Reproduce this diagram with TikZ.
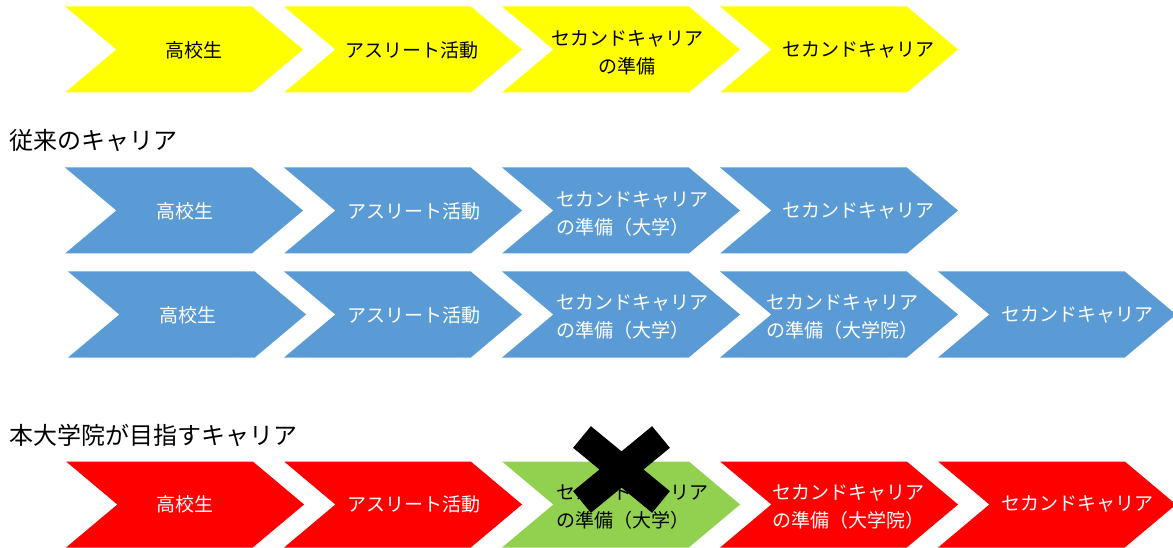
\documentclass[tikz,border=0pt]{standalone}
\usepackage{fontspec}
\newfontfamily\jpfont{Noto Sans CJK JP}
\usetikzlibrary{shapes.symbols}
\definecolor{chevyellow}{HTML}{FFFF00}
\definecolor{chevblue}{HTML}{5B9BD5}
\definecolor{chevred}{HTML}{FF0000}
\definecolor{chevgreen}{HTML}{92D050}
\tikzset{
	chev/.style={shape=signal,signal from=west,signal to=east,signal pointer angle=80,minimum width=238pt,minimum height=86pt,inner sep=0pt,fill=#1,anchor=west},
	lbl/.style={font=\jpfont\fontsize{19}{28}\selectfont,inner sep=0pt,align=left,text=#1},
	lbl/.default=white,
	heading/.style={font=\jpfont\fontsize{24}{28}\selectfont,inner sep=0pt,anchor=west}
}
\begin{document}
\begin{tikzpicture}[x=1pt,y=-1pt]
				\useasboundingbox (0,0) rectangle (1173,548);
				\node[heading] (h-old) at (9,141) {従来のキャリア};
				\node[heading] (h-new) at (9,435) {本大学院が目指すキャリア};
				\foreach \x [count=\i] in {116,335,553,771}
					\node[chev=chevyellow] (y-\i) at (\x,49.5) {};
				\foreach \x [count=\i] in {116,335,553,771}
					\node[chev=chevblue] (b-\i) at (\x,210.5) {};
				\foreach \x [count=\i] in {119,335,553,771,989}
					\node[chev=chevblue] (c-\i) at (\x,314.5) {};
				\foreach \x/\c [count=\i] in {117/chevred,335/chevred,553/chevgreen,771/chevred,989/chevred}
					\node[chev=\c] (r-\i) at (\x,504.5) {};
				\node[lbl=black] (y-t1) at (194,50) {高校生};
				\node[lbl=black] (y-t2) at (412,50) {アスリート活動};
				\node[lbl=black,align=center] (y-t3) at (627,53) {セカンドキャリア\\の準備};
				\node[lbl=black] (y-t4) at (858,50) {セカンドキャリア};
				\node[lbl] (b-t1) at (185,211) {高校生};
				\node[lbl] (b-t2) at (413.5,211) {アスリート活動};
				\node[lbl,anchor=west] (b-t3) at (556,213.5) {セカンドキャリア\\の準備（大学）};
				\node[lbl] (b-t4) at (858,211) {セカンドキャリア};
				\node[lbl] (c-t1) at (187.5,315) {高校生};
				\node[lbl] (c-t2) at (413.5,315) {アスリート活動};
				\node[lbl,anchor=west] (c-t3) at (556,316.5) {セカンドキャリア\\の準備（大学）};
				\node[lbl,anchor=west] (c-t4) at (766,316.5) {セカンドキャリア\\の準備（大学院）};
				\node[lbl] (c-t5) at (1077,315) {セカンドキャリア};
				\node[lbl] (r-t1) at (184.5,504) {高校生};
				\node[lbl] (r-t2) at (413.5,504) {アスリート活動};
				\node[lbl=black,anchor=west] (r-t3) at (556,507) {セカンドキャリア\\の準備（大学）};
				\node[lbl,anchor=west] (r-t4) at (772,507) {セカンドキャリア\\の準備（大学院）};
				\node[lbl] (r-t5) at (1077,504) {セカンドキャリア};
				\coordinate (cross) at (621.5,469.5);
				\draw[line width=28pt] ([shift={(-39.5,-32.5)}]cross) -- ([shift={(39.5,32.5)}]cross)
					([shift={(39.5,-32.5)}]cross) -- ([shift={(-39.5,32.5)}]cross);
			\end{tikzpicture}
\end{document}
